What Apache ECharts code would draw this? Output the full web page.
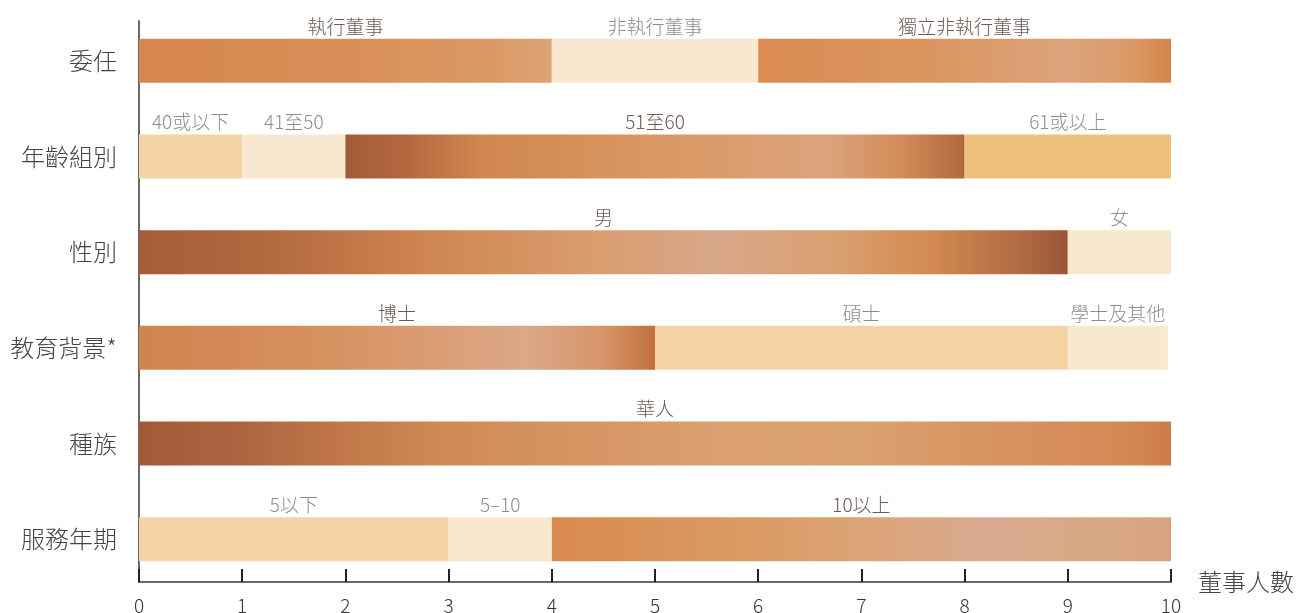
<!DOCTYPE html>
<html>
<head>
<meta charset="utf-8">
<script src="https://cdn.jsdelivr.net/npm/echarts@6/dist/echarts.min.js"></script>
<style>
html,body{margin:0;padding:0;background:#fff;}
#c{width:1297px;height:613px;}
</style>
</head>
<body>
<div id="c"></div>
<script>
// ---- data ----
const categories = ['委任', '年齡組別', '性別', '教育背景*', '種族', '服務年期'];
const seg1Values = [4, 1, 9, 5, 10, 3];
const seg1Names  = ['執行董事', '40或以下', '男', '博士', '華人', '5以下'];
const seg2Values = [2, 1, 1, 4, null, 1];
const seg2Names  = ['非執行董事', '41至50', '女', '碩士', '', '5–10'];
const seg3Values = [4, 6, null, 0.97, null, 6];
const seg3Names  = ['獨立非執行董事', '51至60', '', '學士及其他', '', '10以上'];
const seg4Values = [null, 2, null, null, null, null];
const seg4Names  = ['', '61或以上', '', '', '', ''];
const xTicks = [0, 10, 1]; // min, max, interval

// ---- styles ----
const CREAM = '#F8E8CF', PEACH = '#F4D3A5', GOLD = '#EEC27D';
function grad(stops) {
  return new echarts.graphic.LinearGradient(0, 0, 1, 0,
    stops.map(s => ({offset: s[0], color: s[1]})));
}
const textured = {
  'c0s0': grad([[0,'#D5874D'],[0.5,'#D98E57'],[0.85,'#DA9964'],[1,'#DCA478']]),
  'c0s2': grad([[0,'#D98B52'],[0.4,'#DA955F'],[0.75,'#DCA37C'],[0.9,'#DA9A68'],[1,'#D5854A']]),
  'c1s2': grad([[0,'#A35C38'],[0.1,'#B46840'],[0.22,'#D0864F'],[0.5,'#D99863'],[0.78,'#DCA37C'],[0.9,'#D18B58'],[1,'#B0683E']]),
  'c2s0': grad([[0,'#A45D38'],[0.15,'#B46A40'],[0.3,'#CD8450'],[0.48,'#D99C6C'],[0.62,'#D8A68A'],[0.75,'#D9A070'],[0.85,'#D38A52'],[0.95,'#B06A42'],[1,'#9A5638']]),
  'c3s0': grad([[0,'#D08450'],[0.3,'#D58E5A'],[0.6,'#DA9F77'],[0.75,'#DBA888'],[0.9,'#D69468'],[1,'#C26E40']]),
  'c4s0': grad([[0,'#A25A36'],[0.1,'#AE6440'],[0.18,'#BE7448'],[0.3,'#D18A55'],[0.55,'#DA9F70'],[0.7,'#D9A16E'],[0.85,'#D89060'],[0.95,'#D48A55'],[1,'#CC7D48']]),
  'c5s2': grad([[0,'#D88A4E'],[0.3,'#DA9A62'],[0.55,'#DBA57C'],[0.7,'#D8AA90'],[0.85,'#D9A886'],[1,'#D6A47E']])
};
const flat = {
  'c0s1': CREAM, 'c1s0': PEACH, 'c1s1': CREAM, 'c1s3': GOLD,
  'c2s1': CREAM, 'c3s1': PEACH, 'c3s2': CREAM, 'c5s0': PEACH, 'c5s1': CREAM
};
const BROWN = '#6E5A53', GREY = '#8E8E8E';
const FONT = '"Noto Sans CJK TC", "Noto Sans", sans-serif';

function buildSeries(values, names, segIdx) {
  return {
    type: 'bar',
    stack: 'total',
    barWidth: 44,
    xAxisIndex: 0, yAxisIndex: 0,
    data: values.map((v, i) => {
      const key = 'c' + i + 's' + segIdx;
      const isTex = !!textured[key];
      return {
        value: v,
        itemStyle: {color: isTex ? textured[key] : (flat[key] || CREAM)},
        label: {
          show: v != null,
          position: 'top',
          distance: 3,
          formatter: names[i],
          color: isTex ? BROWN : GREY,
          fontSize: 19,
          fontFamily: FONT,
          fontWeight: 300
        }
      };
    })
  };
}

const chart = echarts.init(document.getElementById('c'), null, {renderer: 'canvas'});
chart.setOption({
  animation: false,
  backgroundColor: '#fff',
  grid: [
    {left: 139, right: 126, top: 13, bottom: 26, containLabel: false, outerBoundsMode: 'none'},
    {left: 139, right: 126, top: 21, bottom: 31, containLabel: false, outerBoundsMode: 'none'}
  ],
  xAxis: [{
    type: 'value', gridIndex: 0,
    min: xTicks[0], max: xTicks[1], interval: xTicks[2],
    offset: -5,
    axisLine: {show: true, lineStyle: {color: '#6A6A6A', width: 2}},
    axisTick: {show: true, inside: true, length: 13, lineStyle: {color: '#222', width: 2}},
    splitLine: {show: false},
    axisLabel: {color: '#333', fontSize: 19, margin: 14, fontFamily: FONT, fontWeight: 300},
    name: '董事人數', nameLocation: 'end', nameGap: 27,
    nameTextStyle: {color: '#444', fontSize: 24, fontFamily: FONT, fontWeight: 300, verticalAlign: 'middle', align: 'left'}
  }, {
    type: 'value', gridIndex: 1, show: false, min: 0, max: 1
  }],
  yAxis: [{
    type: 'category', gridIndex: 0, inverse: true, data: categories,
    axisLine: {show: false}, axisTick: {show: false},
    axisLabel: {color: '#444', fontSize: 24, margin: 22, fontFamily: FONT, fontWeight: 300}
  }, {
    type: 'value', gridIndex: 1, min: 0, max: 1,
    axisLine: {show: true, lineStyle: {color: '#6A6A6A', width: 2}},
    axisTick: {show: false}, axisLabel: {show: false}, splitLine: {show: false}
  }],
  series: [
    buildSeries(seg1Values, seg1Names, 0),
    buildSeries(seg2Values, seg2Names, 1),
    buildSeries(seg3Values, seg3Names, 2),
    buildSeries(seg4Values, seg4Names, 3)
  ]
});
</script>
</body>
</html>
